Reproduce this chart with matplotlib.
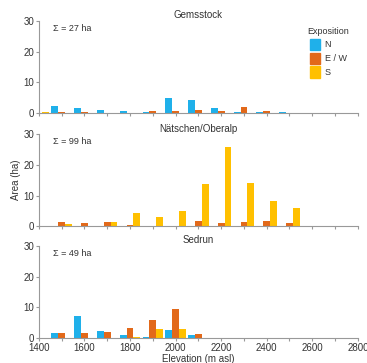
import numpy as np
import matplotlib.pyplot as plt
from matplotlib.patches import Patch

plt.rcParams['font.family'] = ['Liberation Sans', 'DejaVu Sans']

# elevation bins (m asl, bin centres)
elev = [1400, 1500, 1600, 1700, 1800, 1900, 2000, 2100, 2200, 2300, 2400, 2500]

# area per exposition (ha)
gems_n  = [0, 2.1, 1.7, 1.1, 0.7, 0.3, 4.9, 4.2, 1.7, 0.2, 0.4, 0.2]
gems_ew = [0, 0.3, 0.2, 0, 0, 0.6, 0.5, 0.8, 0.6, 1.9, 0.6, 0.1]
gems_s  = [0.2, 0, 0, 0, 0, 0, 0, 0, 0, 0, 0, 0]

nat_n  = [0, 0, 0, 0, 0, 0, 0, 0, 0, 0, 0, 0]
nat_ew = [0, 1.2, 1.0, 1.5, 0.4, 0, 0.2, 1.8, 0.9, 1.3, 1.7, 1.1]
nat_s  = [0, 0.6, 0, 1.5, 4.4, 2.9, 4.9, 13.9, 25.8, 14.0, 8.3, 5.8]

sed_n  = [0, 1.6, 7.1, 2.4, 1.0, 0.4, 2.5, 1.0, 0, 0, 0, 0]
sed_ew = [0, 1.6, 1.6, 2.0, 3.2, 5.9, 9.6, 1.4, 0, 0, 0, 0]
sed_s  = [0, 0, 0, 0, 0.3, 2.8, 2.8, 0, 0.1, 0, 0, 0]

sites = ['Gemsstock', 'Nätschen/Oberalp', 'Sedrun']
totals = [27, 99, 49]
data = [(gems_n, gems_ew, gems_s), (nat_n, nat_ew, nat_s), (sed_n, sed_ew, sed_s)]
labels = ['N', 'E / W', 'S']
colors = ['#1FB0EA', '#E2691A', '#FFC000']

xtick_pos = list(range(1400, 2900, 100))
xtick_lab = [str(v) if v % 200 == 0 else '' for v in xtick_pos]

fig = plt.figure(figsize=(3.67, 3.63), dpi=100)
bottoms = [0.689, 0.377, 0.069]
x = np.array(elev)
w = 30
txt = '#333333'

for i, (site, tot, series) in enumerate(zip(sites, totals, data)):
    ax = fig.add_axes([0.106, bottoms[i], 0.869, 0.253])
    for j, (vals, col) in enumerate(zip(series, colors)):
        ax.bar(x + (j - 1) * w, vals, width=w, color=col, label=labels[j])
    ax.set_xlim(1400, 2800)
    ax.set_ylim(0, 30)
    ax.set_yticks([0, 10, 20, 30])
    ax.set_xticks(xtick_pos)
    ax.set_xticklabels(xtick_lab if i == 2 else [''] * len(xtick_pos))
    for s in ['top', 'right']:
        ax.spines[s].set_visible(False)
    for s in ['left', 'bottom']:
        ax.spines[s].set_color('#999999')
        ax.spines[s].set_linewidth(0.8)
    ax.tick_params(labelsize=7, colors='#999999', labelcolor=txt, length=2.5, width=0.8, pad=1)
    ax.set_title(site, fontsize=7, color=txt, pad=2)
    ax.text(0.045, 0.92, '\u03a3 = %d ha' % tot, transform=ax.transAxes, fontsize=6.5,
            color=txt, va='center')
    if i == 1:
        ax.set_ylabel('Area (ha)', fontsize=7, color=txt, labelpad=2)
    if i == 2:
        ax.set_xlabel('Elevation (m asl)', fontsize=7, color=txt, labelpad=1)
    if i == 0:
        handles = [Patch(color=c) for c in colors]
        leg = ax.legend(handles, labels, title='Exposition', loc='upper right',
                        bbox_to_anchor=(0.99, 0.99), frameon=False, fontsize=6.5,
                        title_fontsize=6.5, handlelength=1.1, handleheight=1.6,
                        handletextpad=0.5, labelspacing=0.25, borderaxespad=0.2)
        leg.get_title().set_color(txt)
        for t in leg.get_texts():
            t.set_color(txt)

fig.savefig('out.png', dpi=100)
